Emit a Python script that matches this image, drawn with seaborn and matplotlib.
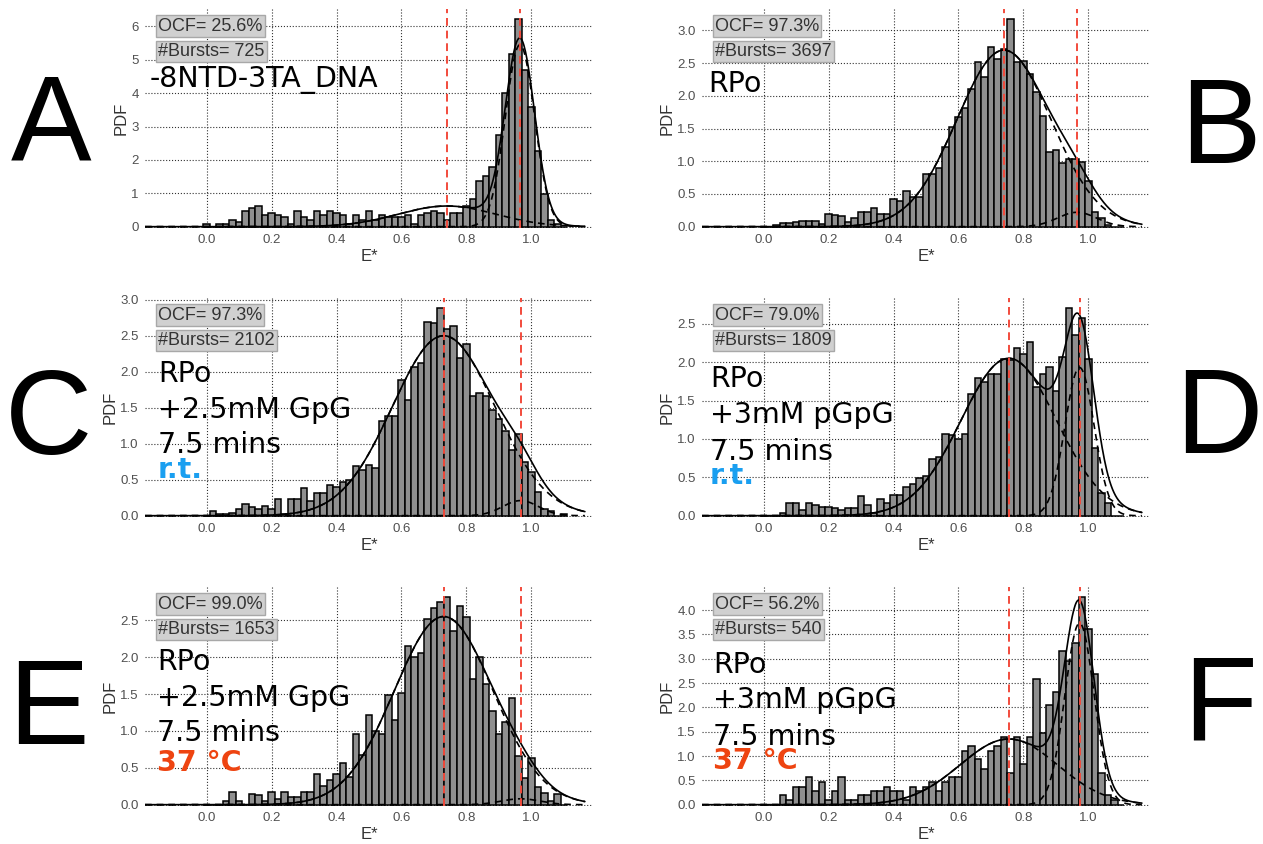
import numpy as np
import matplotlib
matplotlib.use("Agg")
import matplotlib.pyplot as plt
import seaborn as sns

# ---------------- data ----------------
bin_centers = [round(0.02 * k, 2) for k in range(56)]          # 0.00 ... 1.10
bin_edges = [round(-0.01 + 0.02 * k, 3) for k in range(57)]    # -0.01 ... 1.11

hist_A = [0.07, 0, 0.07, 0.07, 0.21, 0.14, 0.48, 0.55, 0.62, 0.35,
          0.41, 0.35, 0.28, 0.07, 0.48, 0.28, 0.21, 0.48, 0.35, 0.48,
          0.41, 0.35, 0.07, 0.35, 0.21, 0.48, 0.21, 0.35, 0.28, 0.28,
          0.28, 0.35, 0.07, 0.35, 0.41, 0.48, 0.41, 0.21, 0.41, 0.41,
          0.62, 0.83, 1.38, 1.52, 1.79, 2.76, 4.00, 5.17, 6.21, 4.69,
          3.59, 2.28, 0.97, 0.21, 0.07, 0]
hist_B = [0, 0, 0.03, 0.05, 0.05, 0.07, 0.08, 0.09, 0.09, 0.04,
          0.19, 0.18, 0.16, 0.07, 0.14, 0.23, 0.22, 0.28, 0.19, 0.20,
          0.42, 0.40, 0.54, 0.45, 0.46, 0.80, 0.81, 0.89, 1.22, 1.53,
          1.67, 1.81, 2.11, 2.52, 2.29, 2.74, 2.57, 2.72, 3.17, 2.52,
          2.54, 2.34, 2.06, 1.69, 1.14, 1.18, 0.98, 1.04, 1.03, 0.99,
          0.70, 0.22, 0.14, 0.03, 0, 0]
hist_C = [0, 0.065, 0.02, 0.02, 0.04, 0.09, 0.16, 0.12, 0.09, 0.14,
          0.09, 0.23, 0.02, 0.23, 0.23, 0.38, 0.20, 0.31, 0.32, 0.43,
          0.40, 0.47, 0.50, 0.69, 0.63, 0.71, 0.66, 1.31, 1.38, 1.38,
          1.88, 1.61, 2.07, 2.12, 2.69, 2.67, 2.88, 2.60, 2.64, 2.19,
          2.38, 1.66, 1.71, 1.66, 1.47, 1.35, 1.17, 0.91, 1.14, 0.74,
          0.61, 0.33, 0.09, 0.06, 0, 0.02]
hist_D = [0, 0, 0, 0.04, 0.16, 0.16, 0.08, 0.16, 0.14, 0.11,
          0.11, 0.10, 0.08, 0.10, 0.10, 0.25, 0.14, 0.03, 0.22, 0.16,
          0.27, 0.27, 0.38, 0.41, 0.49, 0.52, 0.74, 0.77, 1.07, 1.05,
          1.00, 1.07, 1.58, 1.79, 1.74, 1.84, 1.84, 2.04, 2.03, 2.18,
          2.10, 2.26, 1.68, 1.85, 1.93, 1.62, 2.07, 2.70, 2.35, 2.57,
          2.04, 0.88, 0.29, 0.16, 0, 0]
hist_E = [0, 0, 0, 0.05, 0.17, 0.05, 0, 0.14, 0.13, 0.05,
          0.17, 0.08, 0.17, 0.11, 0.11, 0.17, 0.17, 0.42, 0.26, 0.33,
          0.42, 0.57, 0.37, 0.96, 0.67, 1.21, 1.00, 0.96, 1.48, 1.15,
          1.52, 2.15, 2.00, 2.06, 2.52, 2.66, 2.75, 2.81, 2.36, 2.69,
          2.54, 1.70, 2.00, 1.64, 1.27, 0.96, 1.12, 1.45, 0.66, 0.36,
          0.63, 0.24, 0.16, 0.05, 0.14, 0]
hist_F = [0, 0, 0, 0.19, 0.09, 0.37, 0.37, 0.56, 0.28, 0.46,
          0.09, 0.28, 0.56, 0.09, 0.09, 0.19, 0.19, 0.28, 0.28, 0.37,
          0.28, 0.28, 0.09, 0.37, 0.28, 0.37, 0.46, 0.28, 0.46, 0.56,
          0.56, 1.11, 1.20, 0.93, 0.74, 1.11, 1.20, 1.39, 0.65, 1.39,
          0.83, 1.39, 2.59, 1.48, 2.04, 2.31, 3.15, 2.96, 3.33, 4.26,
          3.61, 2.69, 0.65, 0.19, 0.09, 0]

# Gaussian fit components: (mean, sigma, amplitude)
fit_means = {"A": [0.74, 0.965], "B": [0.74, 0.965], "C": [0.73, 0.967],
             "D": [0.755, 0.973], "E": [0.73, 0.967], "F": [0.755, 0.973]}
fit_sigmas = {"A": [0.15, 0.045], "B": [0.145, 0.06], "C": [0.158, 0.055],
              "D": [0.147, 0.045], "E": [0.152, 0.06], "F": [0.15, 0.045]}
fit_amps = {"A": [0.62, 5.45], "B": [2.70, 0.22], "C": [2.50, 0.21],
            "D": [2.05, 1.93], "E": [2.55, 0.08], "F": [1.35, 3.73]}

ocf_labels = {"A": "OCF= 25.6%", "B": "OCF= 97.3%", "C": "OCF= 97.3%",
              "D": "OCF= 79.0%", "E": "OCF= 99.0%", "F": "OCF= 56.2%"}
burst_labels = {"A": "#Bursts= 725", "B": "#Bursts= 3697", "C": "#Bursts= 2102",
                "D": "#Bursts= 1809", "E": "#Bursts= 1653", "F": "#Bursts= 540"}
cond_lines = {"A": ["-8NTD-3TA_DNA"], "B": ["RPo"],
              "C": ["RPo", "+2.5mM GpG", "7.5 mins"], "D": ["RPo", "+3mM pGpG", "7.5 mins"],
              "E": ["RPo", "+2.5mM GpG", "7.5 mins"], "F": ["RPo", "+3mM pGpG", "7.5 mins"]}
temp_labels = {"C": "r.t.", "D": "r.t.", "E": "37 °C", "F": "37 °C"}
yticks = {"A": [0, 1, 2, 3, 4, 5, 6], "B": [0, 0.5, 1, 1.5, 2, 2.5, 3],
          "C": [0, 0.5, 1, 1.5, 2, 2.5, 3], "D": [0, 0.5, 1, 1.5, 2, 2.5],
          "E": [0, 0.5, 1, 1.5, 2, 2.5], "F": [0, 0.5, 1, 1.5, 2, 2.5, 3, 3.5, 4]}
hists = {"A": hist_A, "B": hist_B, "C": hist_C, "D": hist_D, "E": hist_E, "F": hist_F}
xticks = [0.0, 0.2, 0.4, 0.6, 0.8, 1.0]

# ---------------- style / layout ----------------
sns.set_style("white")
plt.rcParams['font.family'] = ['DejaVu Sans']

W, H = 1263, 844
fig = plt.figure(figsize=(W / 100, H / 100), dpi=100)

col_left = [145, 702]
row_top = [9, 298, 587]
AX_W, AX_H = 448, 219

txt_x = {"A": 0.011, "B": 0.013, "C": 0.029, "D": 0.018, "E": 0.027, "F": 0.025}
txt_y = {"A": [0.642], "B": [0.622], "C": [0.618, 0.453, 0.294], "D": [0.595, 0.428, 0.26],
         "E": [0.621, 0.457, 0.297], "F": [0.606, 0.446, 0.279]}
temp_y = {"C": 0.177, "D": 0.149, "E": 0.160, "F": 0.168}
temp_col = {"C": "#1a9ff0", "D": "#1a9ff0", "E": "#ee4411", "F": "#ee4411"}
letter_pos = {"A": (51, 160), "B": (1220, 163), "C": (49, 454), "D": (1219, 453),
              "E": (48, 744), "F": (1220, 740)}

SANS = ['Liberation Sans', 'DejaVu Sans']
xs = np.linspace(-0.19, 1.165, 600)

panels = ["A", "B", "C", "D", "E", "F"]
for i, key in enumerate(panels):
    r, c = divmod(i, 2)
    ax = fig.add_axes([col_left[c] / W, 1 - (row_top[r] + AX_H) / H, AX_W / W, AX_H / H])
    heights = hists[key]

    sns.histplot(x=bin_centers, weights=heights, bins=bin_edges, stat='count',
                 color='#8f8f8f', edgecolor='black', linewidth=1.1, alpha=1.0, ax=ax, zorder=2)

    comps = [a * np.exp(-0.5 * ((xs - m) / s) ** 2)
             for m, s, a in zip(fit_means[key], fit_sigmas[key], fit_amps[key])]
    for comp in comps:
        sns.lineplot(x=xs, y=comp, ax=ax, color='black', lw=1.2,
                     linestyle=(0, (4, 3)), zorder=4)
    sns.lineplot(x=xs, y=np.sum(comps, axis=0), ax=ax, color='black', lw=1.2, zorder=5)

    for m in fit_means[key]:
        ax.axvline(m, color='#f24b3c', ls=(0, (4, 2.5)), lw=1.4, zorder=6)

    ymax = max(heights) * 1.05
    ax.set_xlim(-0.19, 1.19)
    ax.set_ylim(-ymax * 0.006, ymax)
    ax.set_xticks(xticks)
    ax.set_xticklabels([f"{t:.1f}" for t in xticks])
    yt = yticks[key]
    ax.set_yticks(yt)
    if key == "A":
        ax.set_yticklabels([f"{t:d}" for t in yt])
    else:
        ax.set_yticklabels([f"{t:.1f}" for t in yt])
    ax.grid(True, ls=':', color='#333333', lw=0.8)
    ax.set_axisbelow(True)
    for s in ax.spines.values():
        s.set_visible(False)
    ax.tick_params(length=0, pad=4.5, labelsize=9.5, labelcolor='#505050')
    for lab in ax.get_xticklabels() + ax.get_yticklabels():
        lab.set_family(SANS)
    ax.set_xlabel("E*", fontsize=12, color='#333333', family=SANS, labelpad=2)
    ax.set_ylabel("PDF", fontsize=12, color='#333333', family=SANS, labelpad=2)

    box = dict(boxstyle='square,pad=0.12', facecolor='#d0d0d0', edgecolor='#a8a8a8', lw=1)
    ax.text(0.029, 0.922, ocf_labels[key], transform=ax.transAxes, fontsize=13,
            family=SANS, color='#333333', va='center', ha='left', bbox=box, zorder=10)
    ax.text(0.029, 0.806, burst_labels[key], transform=ax.transAxes, fontsize=13,
            family=SANS, color='#333333', va='center', ha='left', bbox=box, zorder=10)

    for line, yy in zip(cond_lines[key], txt_y[key]):
        ax.text(txt_x[key], yy, line, transform=ax.transAxes, fontsize=20.5,
                color='black', va='baseline', ha='left', zorder=10)
    if key in temp_labels:
        ax.text(txt_x[key], temp_y[key], temp_labels[key], transform=ax.transAxes,
                fontsize=20.5, fontweight='bold', color=temp_col[key],
                va='baseline', ha='left', zorder=10)

    lx, ly = letter_pos[key]
    fig.text(lx / W, 1 - ly / H, key, fontsize=87, family=SANS, color='black',
             ha='center', va='baseline')

fig.savefig("out.png", dpi=100, facecolor='white')
